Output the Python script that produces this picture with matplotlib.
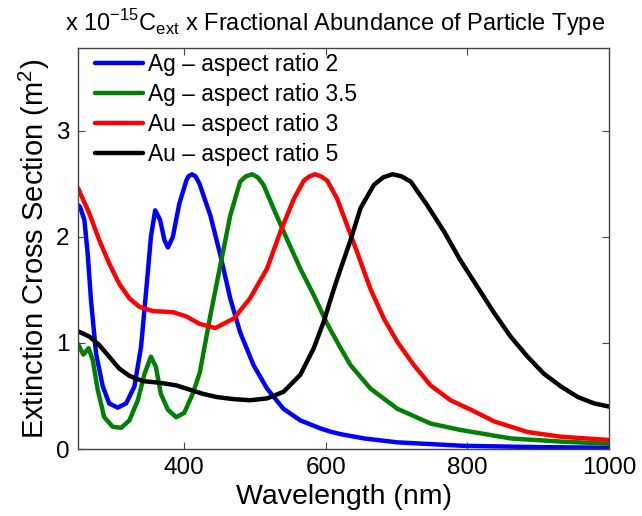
import matplotlib
matplotlib.use("Agg")
import matplotlib.pyplot as plt

plt.rcParams['font.family'] = ['Liberation Sans', 'DejaVu Sans']
plt.rcParams['mathtext.fontset'] = 'custom'
plt.rcParams['mathtext.rm'] = 'Liberation Sans'

# values (units of 1e-15 m^2)
wl_ag2 = [250, 253, 259, 263.7, 268.4, 275.5, 285, 294, 306, 318, 329.7, 339, 346, 353,
          359, 366, 372, 377, 384, 393, 403, 406, 411, 416, 421.6, 437, 451, 465, 479,
          498, 517, 540, 564, 592, 607, 621, 654, 701, 795, 900, 1000]
ag2 = [2.30, 2.28, 2.16, 1.84, 1.40, 0.90, 0.59, 0.43, 0.39, 0.43, 0.59, 0.96, 1.47, 2.0,
       2.25, 2.16, 1.97, 1.90, 2.0, 2.31, 2.53, 2.57, 2.59, 2.57, 2.50, 2.20, 1.83, 1.42,
       1.10, 0.79, 0.57, 0.38, 0.27, 0.195, 0.163, 0.14, 0.10, 0.063, 0.03, 0.018, 0.012]

wl_ag35 = [250, 257.5, 265, 270.8, 277.8, 287, 299, 311, 322.6, 334.5, 344, 353, 360, 367,
           377, 388.7, 400, 412, 422, 437, 451, 465, 479, 487, 496, 504, 512, 526, 545,
           564, 583, 602, 621, 635, 663, 701, 748, 790, 861, 932, 1000]
ag35 = [0.99, 0.89, 0.95, 0.84, 0.56, 0.30, 0.21, 0.20, 0.27, 0.46, 0.71, 0.87, 0.775,
        0.52, 0.37, 0.30, 0.34, 0.52, 0.72, 1.26, 1.73, 2.20, 2.52, 2.57, 2.59, 2.56,
        2.49, 2.27, 1.98, 1.70, 1.45, 1.18, 0.95, 0.79, 0.57, 0.38, 0.24, 0.18, 0.10,
        0.07, 0.05]

wl_au3 = [250, 266, 280, 294, 308, 322.6, 336.8, 355.7, 384, 403, 421.6, 444, 470, 493,
          517, 536, 555, 569, 577, 585, 593, 602, 616, 625, 644, 663, 682, 701, 724.5,
          748, 776, 805, 838, 885, 932, 1000]
au3 = [2.46, 2.22, 1.97, 1.75, 1.56, 1.42, 1.34, 1.30, 1.29, 1.25, 1.18, 1.14, 1.23,
       1.42, 1.70, 2.05, 2.36, 2.53, 2.57, 2.59, 2.57, 2.53, 2.36, 2.20, 1.86, 1.51,
       1.23, 1.01, 0.79, 0.60, 0.46, 0.37, 0.26, 0.16, 0.116, 0.085]

wl_au5 = [250, 266, 280, 294, 308, 322.6, 341.5, 365, 388.7, 407.5, 426.5, 446, 470, 493,
          517, 540.5, 564, 583, 597, 611, 621, 635, 649, 668, 681, 694, 707, 720, 743,
          767, 790, 814, 838, 861, 885, 908, 932, 956, 979, 1000]
au5 = [1.11, 1.06, 0.98, 0.87, 0.76, 0.69, 0.64, 0.625, 0.60, 0.56, 0.52, 0.49, 0.47,
       0.46, 0.477, 0.54, 0.70, 0.95, 1.20, 1.50, 1.70, 1.97, 2.27, 2.49, 2.56, 2.59,
       2.57, 2.52, 2.30, 2.05, 1.78, 1.53, 1.28, 1.06, 0.87, 0.71, 0.59, 0.49, 0.43, 0.40]

labels = ["Ag \u2013 aspect ratio 2", "Ag \u2013 aspect ratio 3.5",
          "Au \u2013 aspect ratio 3", "Au \u2013 aspect ratio 5"]
colors = ["#0000ff", "#008000", "#ff0000", "#000000"]

fig = plt.figure(figsize=(6.42, 5.16), dpi=100)
ax = fig.add_axes([0.1215, 0.1298, 0.8271, 0.7772])

series = [(wl_ag2, ag2), (wl_ag35, ag35), (wl_au3, au3), (wl_au5, au5)]
for (x, y), c, lab in zip(series, colors, labels):
    ax.plot(x, y, color=c, lw=3.2, label=lab, solid_capstyle='round', solid_joinstyle='round')

ax.set_xlim(250, 1000)
ax.set_ylim(0, 3.78)
ax.set_xticks([400, 600, 800, 1000])
ax.set_yticks([0, 1, 2, 3])
ax.tick_params(direction='in', top=True, right=True, labelsize=17.5, length=5,
               width=0.8, color='#444444', pad=6)
for s in ax.spines.values():
    s.set_linewidth(1.0)
    s.set_color('#444444')

ax.set_xlabel("Wavelength (nm)", fontsize=20.5, labelpad=3)
ax.set_ylabel("Extinction Cross Section (m$^2$)", fontsize=21, labelpad=3)

fig.text(0.102, 0.94, r"x 10$^{-15}$C$_{\rm ext}$ x Fractional Abundance of Particle Type",
         fontsize=17, ha='left', va='baseline')

ax.legend(loc='upper left', frameon=False, fontsize=16.4, handlelength=2.1,
          handletextpad=0.22, labelspacing=0.3, borderaxespad=0.0,
          bbox_to_anchor=(0.015, 1.01))

fig.savefig("out.png", dpi=100)
